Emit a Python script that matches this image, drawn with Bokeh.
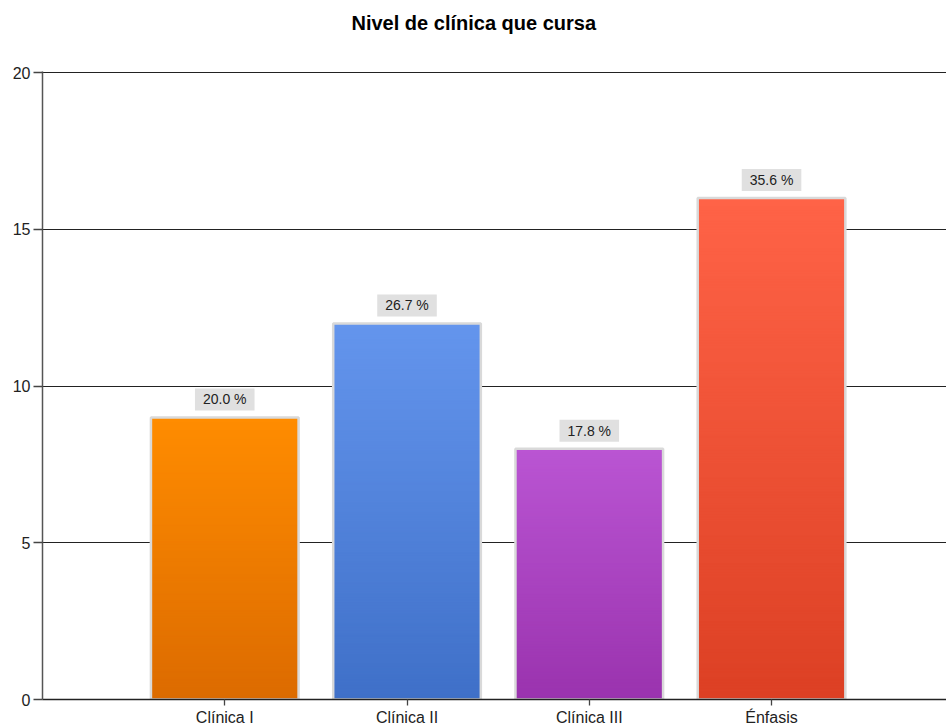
import numpy as np
from bokeh.plotting import figure
from bokeh.models import Range1d, FixedTicker, ColumnDataSource, Title
from bokeh.embed import file_html
from bokeh.resources import INLINE
from bokeh.core.properties import value

title_text = "Nivel de clínica que cursa"
categories = ["Clínica I", "Clínica II", "Clínica III", "Énfasis"]
counts = [9, 12, 8, 16]
percent_labels = ["20.0 %", "26.7 %", "17.8 %", "35.6 %"]
top_colors = ["#FF8C00", "#6495ED", "#BA55D3", "#FF6347"]
bottom_colors = ["#DC6B00", "#3F70C8", "#9A33AE", "#DC4024"]
y_ticks = [0, 5, 10, 15, 20]

positions = list(range(1, len(categories) + 1))
BAR_W = 0.81
W, H = 946, 728

p = figure(width=W, height=H, output_backend="svg", toolbar_location=None,
           x_range=Range1d(0, 4.96), y_range=Range1d(0, 20.04),
           min_border_left=42, min_border_right=0, min_border_top=71, min_border_bottom=28)

p.outline_line_color = None
p.background_fill_color = "white"
p.border_fill_color = "white"

# real title (outer) + an empty spacer title between it and the frame
p.title.text = title_text
p.title.align = "left"
p.title.offset = 309
p.title.standoff = 10
p.title.text_font = "Liberation Sans"
p.title.text_font_size = "20px"
p.title.text_font_style = "bold"
p.title.text_color = "#000000"
p.add_layout(Title(text=" ", text_font_size="1px", standoff=30), "above")


def hex_to_rgb(h):
    h = h.lstrip("#")
    return np.array([int(h[i:i + 2], 16) for i in (0, 2, 4)], dtype=float)


# gradient slices derived from each bar's value (overlapping to avoid seams)
STEP = 0.05
l, r, b, t, cols = [], [], [], [], []
for xpos, v, ct, cb in zip(positions, counts, top_colors, bottom_colors):
    c0 = hex_to_rgb(cb)
    c1 = hex_to_rgb(ct)
    n = int(round(v / STEP))
    edges = np.linspace(0, v, n + 1)
    for i in range(n):
        f = (i + 0.5) / n
        c = c0 + (c1 - c0) * f
        l.append(xpos - BAR_W / 2)
        r.append(xpos + BAR_W / 2)
        b.append(edges[i])
        t.append(min(edges[i + 1] + STEP, v))
        cols.append("#%02x%02x%02x" % tuple(int(round(x)) for x in c))

p.quad(left=l, right=r, bottom=b, top=t, fill_color=cols, line_color=None)

src = ColumnDataSource(dict(x=positions, top=counts, lab=percent_labels))
p.vbar(x="x", top="top", width=BAR_W, source=src, fill_alpha=0,
       line_color="#D9D9D9", line_width=2.5)

p.text(x="x", y="top", text="lab", source=src, text_align="center", text_baseline="bottom",
       y_offset=-7, text_font=value("Liberation Sans"), text_font_size="14px", text_color="#222222",
       background_fill_color="#E0E0E0", padding=dict(left=8, right=8, top=3, bottom=3))

# axes
p.xaxis.ticker = FixedTicker(ticks=positions)
p.xaxis.major_label_overrides = {pos: c for pos, c in zip(positions, categories)}
p.xaxis.major_label_text_font = "Liberation Sans"
p.xaxis.major_label_text_font_size = "16px"
p.xaxis.major_label_text_color = "#222222"
p.xaxis.major_label_standoff = 3
p.xaxis.major_tick_out = 6
p.xaxis.major_tick_in = 0
p.xaxis.minor_tick_line_color = None
p.xaxis.axis_line_color = "#222222"
p.xaxis.axis_line_width = 1.3
p.xaxis.major_tick_line_color = "#444444"
p.xaxis.major_tick_line_width = 1.3

p.yaxis.ticker = FixedTicker(ticks=y_ticks)
p.yaxis.major_label_text_font = "Liberation Sans"
p.yaxis.major_label_text_font_size = "16px"
p.yaxis.major_label_text_color = "#222222"
p.yaxis.major_label_standoff = 3
p.yaxis.major_tick_out = 9
p.yaxis.major_tick_in = 0
p.yaxis.minor_tick_line_color = None
p.yaxis.axis_line_color = "#555555"
p.yaxis.axis_line_width = 1.5
p.yaxis.major_tick_line_color = "#444444"
p.yaxis.major_tick_line_width = 1.3

p.xgrid.grid_line_color = None
p.ygrid.ticker = FixedTicker(ticks=y_ticks)
p.ygrid.grid_line_color = "#222222"
p.ygrid.grid_line_width = 1.2
p.ygrid.level = "underlay"

open("out.html", "w").write(file_html(p, INLINE))
